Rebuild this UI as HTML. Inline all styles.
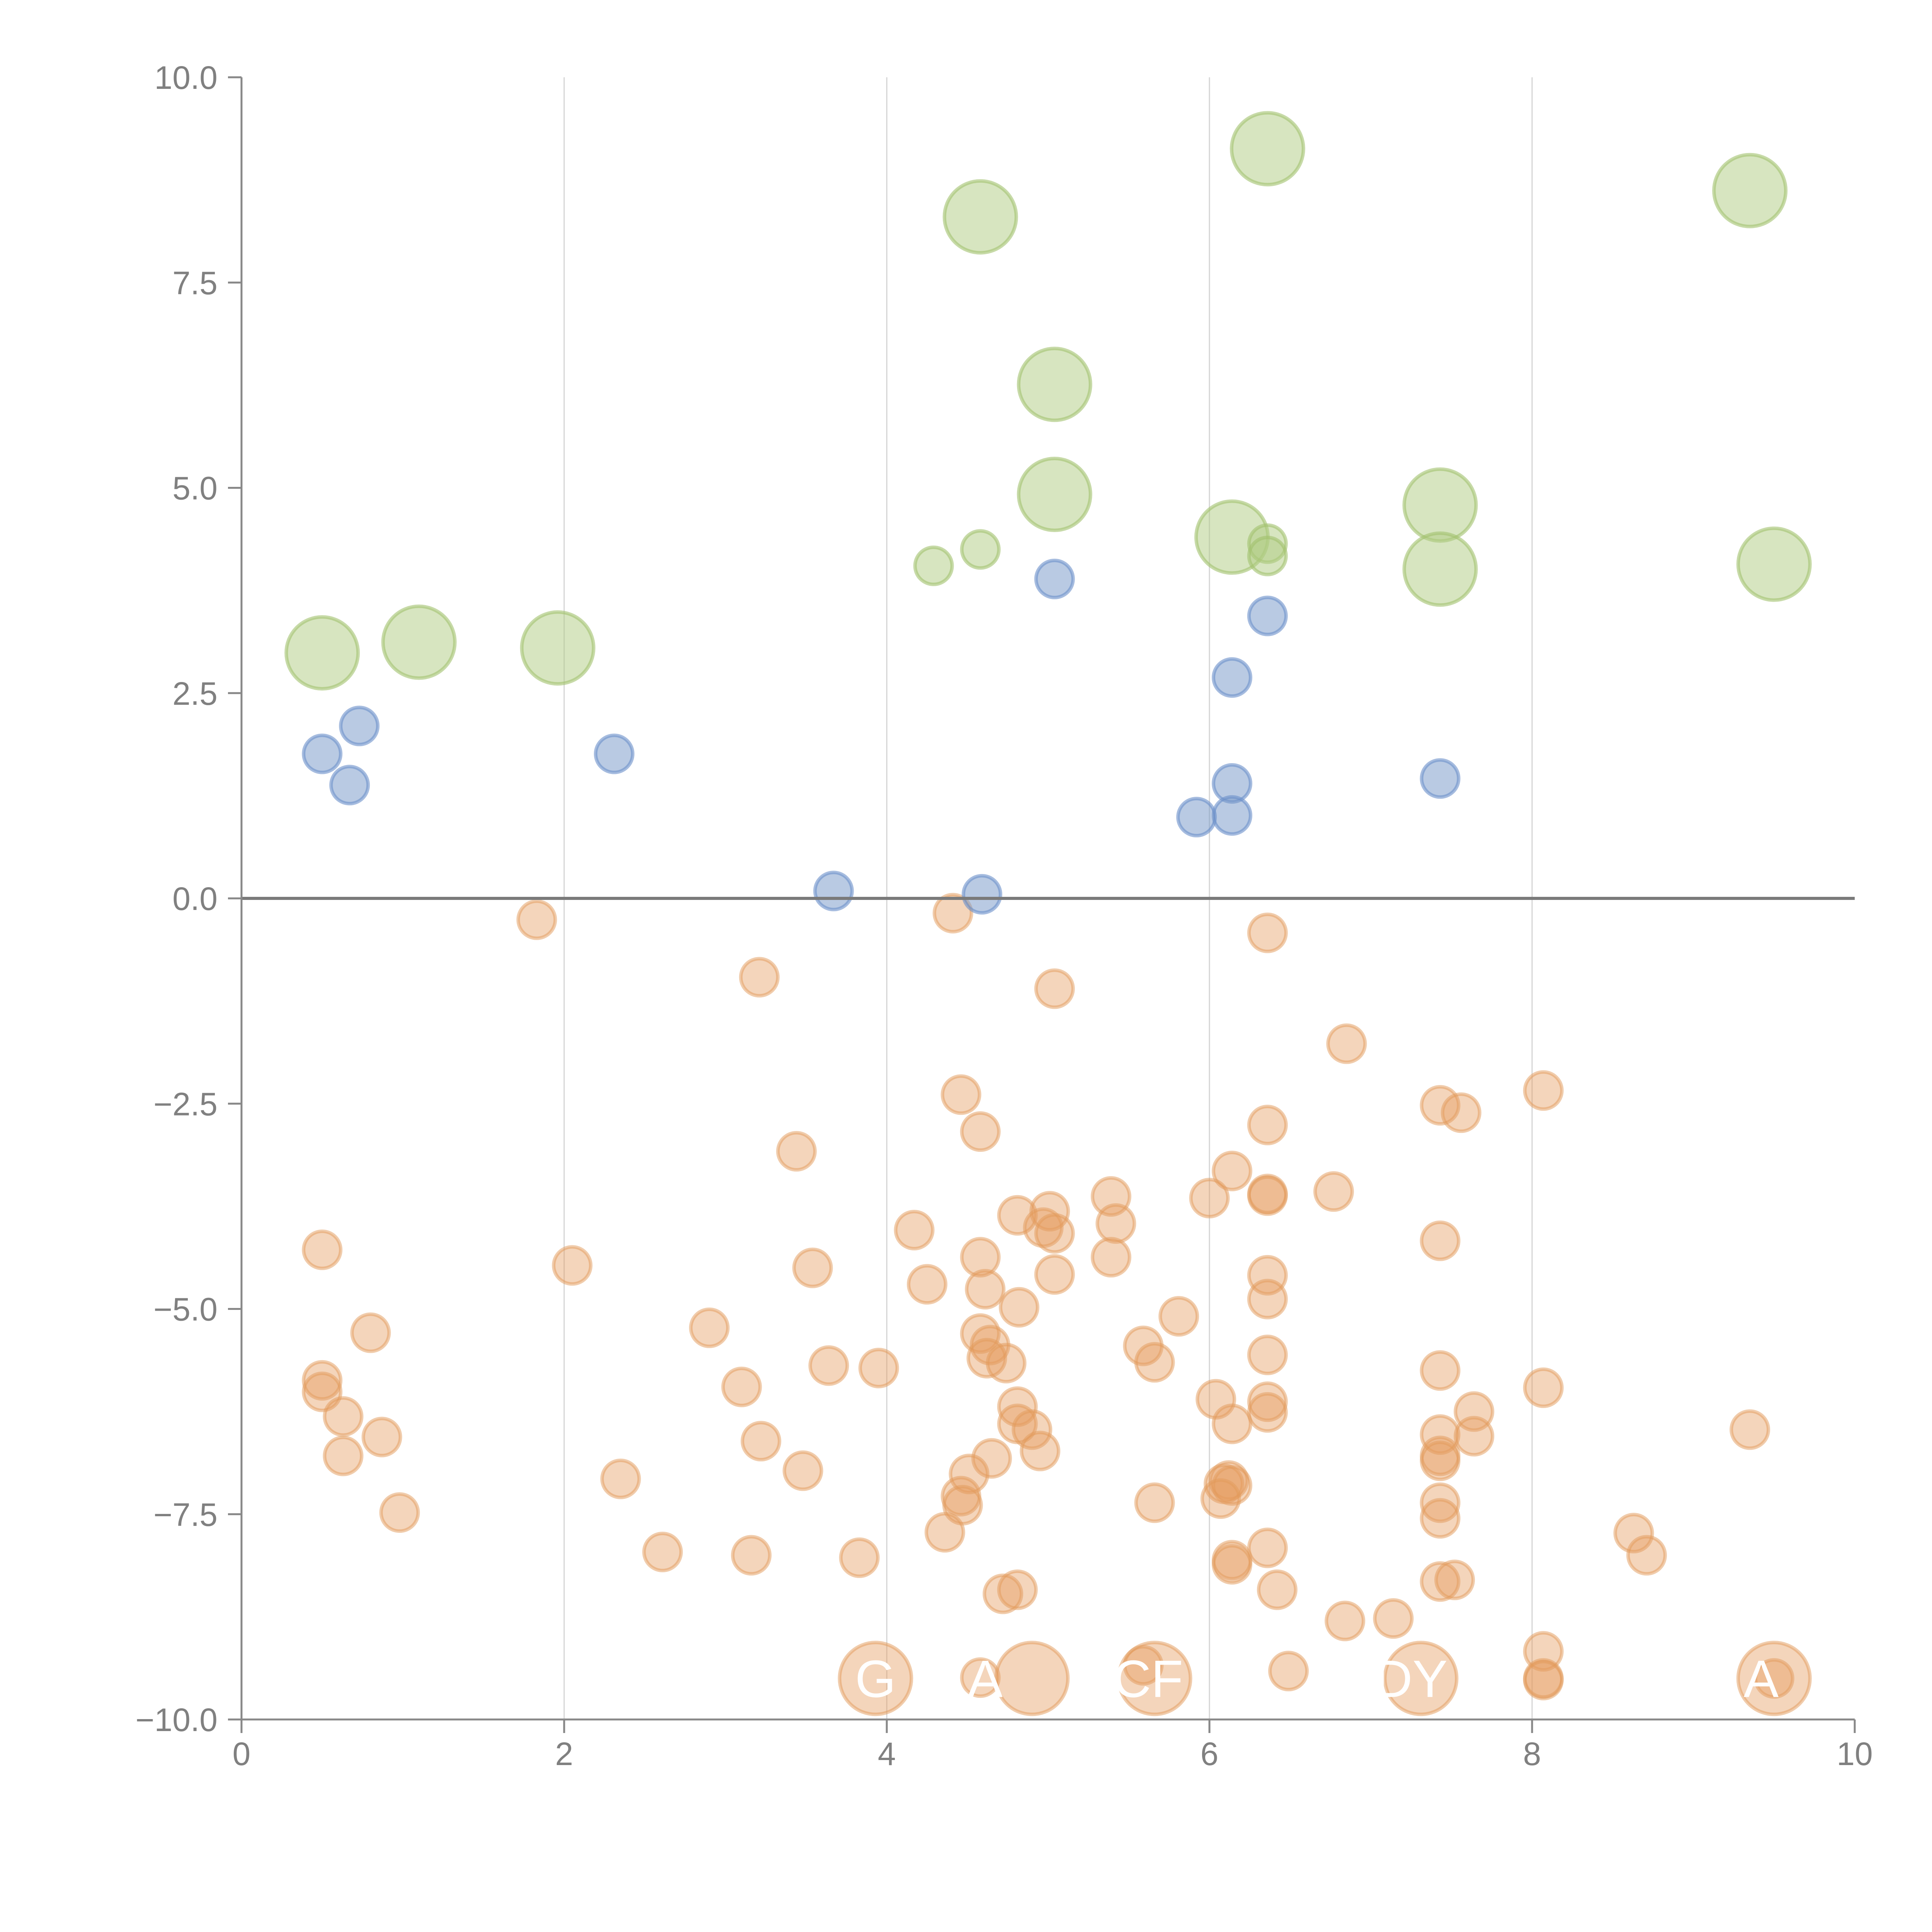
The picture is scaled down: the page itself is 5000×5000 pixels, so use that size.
<!DOCTYPE html>
<html><head><meta charset="utf-8"><style>html,body{margin:0;padding:0;background:#fff}svg{display:block}</style></head>
<body>
<svg id="chart" xmlns="http://www.w3.org/2000/svg" width="5000" height="5000" viewBox="0 0 5000 5000" font-family="'Liberation Sans', Arial, sans-serif">
<rect width="5000" height="5000" fill="#fff"/>
<g id="grid"></g>
<g id="marks"></g>
<g id="axes"></g>
</svg>
<script>
const xTicks = [0, 2, 4, 6, 8, 10];
const yTicks = [10, 7.5, 5, 2.5, 0, -2.5, -5, -7.5, -10];
const yTickLabels = ["10.0", "7.5", "5.0", "2.5", "0.0", "\u22122.5", "\u22125.0", "\u22127.5", "\u221210.0"];

const greenX = [0.50,1.10,1.96,4.29,4.58,4.58,5.04,5.04,6.14,6.36,6.36,6.36,7.43,7.43,9.35,9.50];
const greenY = [2.99,3.12,3.05,4.05,4.25,8.30,6.26,4.92,4.40,4.32,4.17,9.13,4.79,4.01,8.62,4.07];
const greenSize = [2,2,2,1,1,2,2,2,2,1,1,2,2,2,2,2];

const blueX = [0.50,0.73,0.67,2.31,3.67,4.59,5.04,6.36,6.14,6.14,6.14,5.92,7.43];
const blueY = [1.76,2.10,1.38,1.76,0.09,0.05,3.89,3.44,2.69,1.40,1.01,0.99,1.46];

const orangeX = [1.83,3.21,4.41,6.36,5.04,6.85,4.46,4.58,7.43,7.56,8.07,6.36,3.44,6.14,6.00,6.36,6.36,6.77,5.39,5.42,4.81,5.01,4.97,5.04,4.17,7.43,0.50,2.05,3.54,4.58,5.39,5.04,4.25,4.61,6.36,6.36,4.82,5.81,2.90,0.80,4.58,4.64,5.59,4.62,4.74,5.66,6.36,3.64,3.95,7.43,0.50,0.50,3.10,8.07,6.04,6.36,6.36,4.81,7.64,0.63,4.81,6.14,4.90,9.35,0.87,7.43,7.64,3.22,4.95,0.63,7.43,7.43,4.65,3.48,4.51,2.35,6.12,6.09,6.14,4.46,4.47,6.07,5.66,7.43,0.98,7.43,4.36,8.63,6.36,2.61,3.16,8.71,3.83,6.14,6.14,7.43,7.52,4.72,4.81,6.42,6.84,7.14,8.07,6.49,4.58,5.59,8.07,8.07,9.50,3.93,4.90,5.66,7.31,9.50];
const orangeY = [-0.26,-0.96,-0.18,-0.42,-1.10,-1.77,-2.39,-2.84,-2.52,-2.61,-2.34,-2.76,-3.08,-3.32,-3.65,-3.60,-3.62,-3.57,-3.63,-3.96,-3.86,-3.81,-4.01,-4.08,-4.04,-4.17,-4.28,-4.47,-4.50,-4.37,-4.37,-4.58,-4.70,-4.76,-4.59,-4.88,-4.98,-5.09,-5.23,-5.29,-5.30,-5.44,-5.45,-5.60,-5.66,-5.65,-5.56,-5.69,-5.72,-5.75,-5.87,-6.01,-5.95,-5.96,-6.10,-6.13,-6.26,-6.19,-6.25,-6.31,-6.40,-6.40,-6.47,-6.47,-6.56,-6.53,-6.55,-6.61,-6.73,-6.79,-6.79,-6.85,-6.82,-6.97,-7.01,-7.07,-7.09,-7.13,-7.15,-7.28,-7.39,-7.31,-7.36,-7.36,-7.48,-7.55,-7.72,-7.73,-7.91,-7.96,-8.00,-8.00,-8.03,-8.06,-8.11,-8.32,-8.30,-8.47,-8.42,-8.42,-8.80,-8.77,-9.17,-9.41,-9.49,-9.34,-9.50,-9.52,-9.50,-9.50,-9.50,-9.50,-9.50,-9.50];
const orangeSize = orangeX.map((_, i) => i >= orangeX.length - 5 ? 2 : 1);

const bigLabels = ["G", "A", "CF", "DY", "A"];
const bigLabelX = [3.93, 4.61, 5.62, 7.25, 9.42];
const bigLabelY = [-9.5, -9.5, -9.5, -9.5, -9.5];

const X0 = 625, X1 = 4800, Y0 = 200, Y1 = 4450;
const xs = v => X0 + (v - 0) / 10 * (X1 - X0);
const ys = v => Y0 + (10 - v) / 20 * (Y1 - Y0);
const rOf = s => s === 2 ? 93 : 48;
const NS = "http://www.w3.org/2000/svg";
function mk(tag, attrs, parent) {
  const e = document.createElementNS(NS, tag);
  for (const k in attrs) e.setAttribute(k, attrs[k]);
  parent.appendChild(e);
  return e;
}
const grid = document.getElementById('grid');
const marks = document.getElementById('marks');
const axes = document.getElementById('axes');

[2, 4, 6, 8].forEach(v => {
  const l = mk('line', {x1: xs(v), x2: xs(v), y1: Y0, y2: Y1, stroke: '#d4d4d4', 'stroke-width': 3}, grid);
  
  
});

function drawSeries(X, Y, S, fill, stroke, fo, so, name) {
  X.forEach((x, i) => {
    const c = mk('circle', {cx: xs(x), cy: ys(Y[i]), r: rOf(S ? S[i] : 1), fill: fill, 'fill-opacity': fo, stroke: stroke, 'stroke-opacity': so, 'stroke-width': 9}, marks);
    
    
  });
}
drawSeries(orangeX, orangeY, orangeSize, '#e59a5c', '#e29a5a', 0.42, 0.5, 'orange-bubble');
drawSeries(blueX, blueY, null, '#7496c8', '#6a8fca', 0.5, 0.6, 'blue-bubble');
drawSeries(greenX, greenY, greenSize, '#b0cb82', '#a2c26e', 0.5, 0.6, 'green-bubble');

bigLabels.forEach((t, i) => {
  const tx = mk('text', {x: xs(bigLabelX[i]), y: ys(bigLabelY[i]) + 48, 'font-size': 136, fill: '#fff', 'text-anchor': 'middle'}, marks);
  tx.textContent = t;
  
  
});

const z = mk('line', {x1: X0, x2: X1, y1: ys(0), y2: ys(0), stroke: '#7a7a7a', 'stroke-width': 8}, axes);


const ya = mk('line', {x1: X0, x2: X0, y1: Y0, y2: Y1, stroke: '#888', 'stroke-width': 5}, axes);


const xa = mk('line', {x1: X0, x2: X1, y1: Y1, y2: Y1, stroke: '#888', 'stroke-width': 5}, axes);



yTicks.forEach((v, i) => {
  const t = mk('line', {x1: X0 - 35, x2: X0, y1: ys(v), y2: ys(v), stroke: '#888', 'stroke-width': 5}, axes);
  
  
  const lb = mk('text', {x: X0 - 62, y: ys(v) + 30, 'font-size': 84, fill: '#808080', 'text-anchor': 'end'}, axes);
  lb.textContent = yTickLabels[i];
  
  
});
xTicks.forEach(v => {
  const t = mk('line', {x1: xs(v), x2: xs(v), y1: Y1, y2: Y1 + 35, stroke: '#888', 'stroke-width': 5}, axes);
  
  
  const lb = mk('text', {x: xs(v), y: Y1 + 118, 'font-size': 84, fill: '#808080', 'text-anchor': 'middle'}, axes);
  lb.textContent = String(v);
  
  
});
</script>
</body></html>
